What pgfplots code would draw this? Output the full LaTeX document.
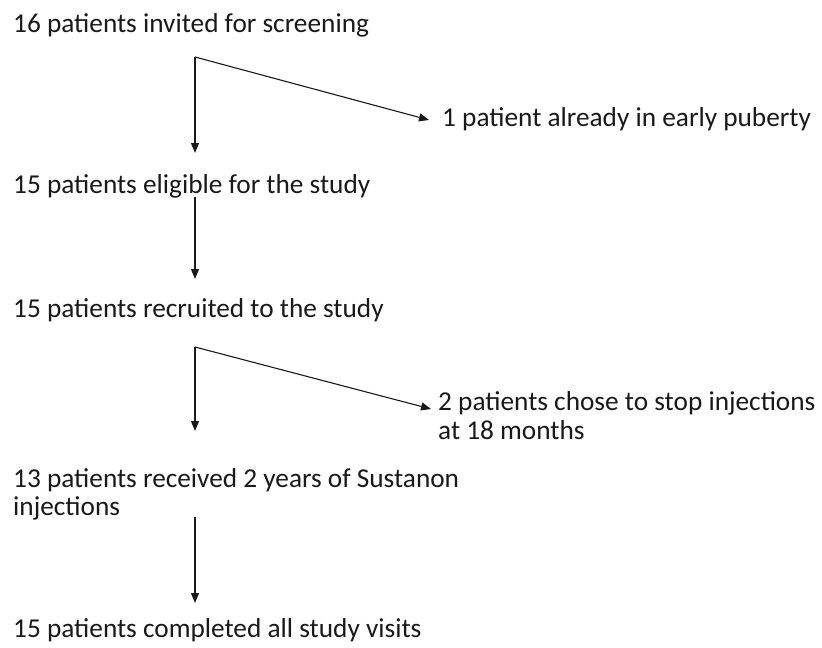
\documentclass[border=0pt]{standalone}
\usepackage{pgfplots}
\pgfplotsset{compat=1.18}
\usepackage{fontspec}
\setmainfont{Carlito}
\usetikzlibrary{arrows.meta}
\begin{document}
\begin{tikzpicture}
\tikzset{arr/.style={line width=1.1bp, color=black!90, mark=none, -{Triangle[length=10bp,width=8bp]}},
  lbl/.style={anchor=base west, inner sep=0pt, font=\fontsize{27.4}{33}\selectfont, text=black!90}}
\begin{axis}[
  width=822bp, height=648bp, scale only axis,
  xmin=0, xmax=822, ymin=0, ymax=648, y dir=reverse,
  hide axis, clip=false,
]
\addplot[draw=none, mark=none, forget plot] coordinates {(0,0) (822,648)};
\addplot[arr] coordinates {(195,57) (195,153)};
\addplot[arr] coordinates {(195,57) (429,120)};
\addplot[arr] coordinates {(195,197) (195,279)};
\addplot[arr] coordinates {(195,347) (195,431)};
\addplot[arr] coordinates {(195,347) (431,409)};
\addplot[arr] coordinates {(195,517) (195,603)};
\node[lbl] at (axis cs:13,33) {16 patients invited for screening};
\node[lbl] at (axis cs:442,126) {1 patient already in early puberty};
\node[lbl] at (axis cs:13,193) {15 patients eligible for the study};
\node[lbl] at (axis cs:13,317) {15 patients recruited to the study};
\node[lbl] at (axis cs:438,410) {2 patients chose to stop injections};
\node[lbl] at (axis cs:438,439) {at 18 months};
\node[lbl] at (axis cs:13,487) {13 patients received 2 years of Sustanon};
\node[lbl] at (axis cs:13,515) {injections};
\node[lbl] at (axis cs:13,637) {15 patients completed all study visits};
\end{axis}
\end{tikzpicture}
\end{document}
